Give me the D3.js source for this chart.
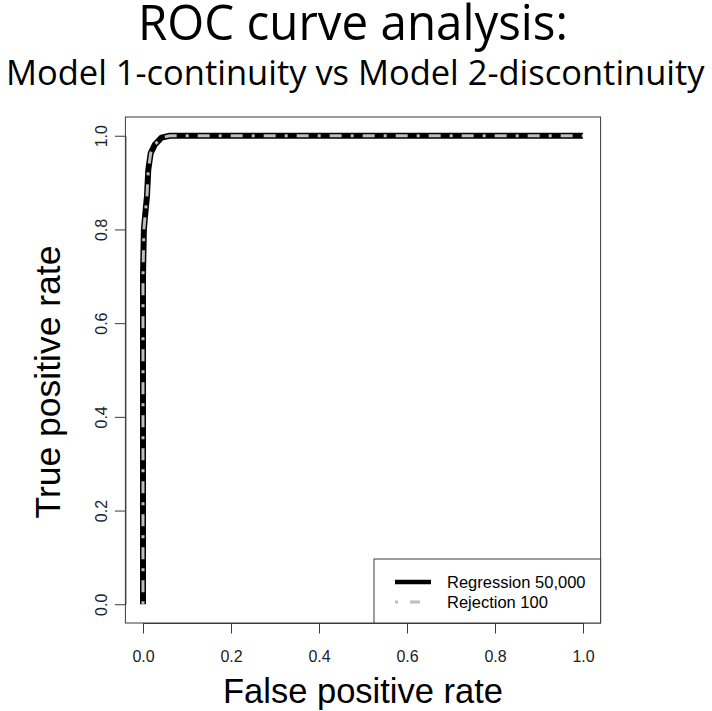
<!DOCTYPE html>
<html>
<head>
<meta charset="utf-8">
<script src="https://cdn.jsdelivr.net/npm/d3@7"></script>
<style>
  html, body { margin: 0; padding: 0; background: #fff; }
  svg { display: block; }
</style>
</head>
<body>
<svg id="chart" width="712" height="711"></svg>
<script>
// ---- data ----
const titleLines = ["ROC curve analysis:", "Model 1-continuity vs Model 2-discontinuity"];
const xLabel = "False positive rate";
const yLabel = "True positive rate";
const xTicks = [0, 0.2, 0.4, 0.6, 0.8, 1.0];
const yTicks = [0, 0.2, 0.4, 0.6, 0.8, 1.0];
const seriesNames = ["Regression 50,000", "Rejection 100"];

const regFpr = [0, 0, 0.002, 0.006, 0.009, 0.012, 0.0175, 0.027, 0.042, 0.061, 1.0];
const regTpr = [0, 0.70, 0.80, 0.842, 0.87, 0.927, 0.963, 0.981, 0.996, 1.0, 1.0];
const rejFpr = [0, 0, 0.002, 0.006, 0.009, 0.012, 0.0175, 0.027, 0.042, 0.061, 1.0];
const rejTpr = [0, 0.70, 0.80, 0.842, 0.87, 0.927, 0.963, 0.981, 0.996, 1.0, 1.0];

// ---- layout ----
const svg = d3.select("#chart");
const box = {left: 125.4, right: 600.6, top: 117, bottom: 623};
const padX = (box.right - box.left) * 0.04 / 1.08;
const padY = (box.bottom - box.top) * 0.04 / 1.08;

const x = d3.scaleLinear().domain([0, 1]).range([box.left + padX, box.right - padX]);
const y = d3.scaleLinear().domain([0, 1]).range([box.bottom - padY, box.top + padY]);

const rFont = "'Liberation Sans', Arial, sans-serif";
const axisColor = "#3a3a3a";

// ---- titles (horizontally scaled to fit the measured span) ----
function fittedTitle(txt, left, right, baseline, size) {
  const g = svg.append("g");
  const t = g.append("text")
    .attr("x", 0).attr("y", 0)
    .attr("font-family", "'Open Sans', sans-serif")
    .attr("font-size", size)
    .attr("fill", "#000")
    .text(txt);
  const w = t.node().getComputedTextLength();
  const sx = (right - left) / w;
  g.attr("transform", `translate(${left},${baseline}) scale(${sx},1)`);
}
fittedTitle(titleLines[0], 138, 568, 40, 49);
fittedTitle(titleLines[1], 6, 705, 85, 35);

// ---- axes ----
const xAxis = d3.axisBottom(x).tickValues(xTicks).tickFormat(d3.format(".1f"))
  .tickSize(10.5).tickSizeOuter(0);
const gx = svg.append("g").attr("transform", `translate(0,${box.bottom})`).call(xAxis);
gx.select(".domain").attr("stroke", axisColor);
gx.selectAll(".tick line").attr("stroke", axisColor);
gx.selectAll(".tick text")
  .attr("y", 39).attr("dy", 0)
  .attr("font-family", rFont).attr("font-size", 16).attr("fill", "#222");

const yAxis = d3.axisLeft(y).tickValues(yTicks).tickFormat(d3.format(".1f"))
  .tickSize(10.5).tickSizeOuter(0);
const gy = svg.append("g").attr("transform", `translate(${box.left},0)`).call(yAxis);
gy.select(".domain").attr("stroke", axisColor);
gy.selectAll(".tick line").attr("stroke", axisColor);
gy.selectAll(".tick text")
  .attr("x", 0).attr("dy", 0)
  .attr("transform", "translate(-18,0) rotate(-90)")
  .attr("text-anchor", "middle")
  .attr("font-family", rFont).attr("font-size", 16).attr("fill", "#222");

// plot box
svg.append("rect")
  .attr("x", box.left).attr("y", box.top)
  .attr("width", box.right - box.left).attr("height", box.bottom - box.top)
  .attr("fill", "none").attr("stroke", axisColor).attr("stroke-width", 1);

// axis titles
svg.append("text")
  .attr("x", (box.left + box.right) / 2).attr("y", 703)
  .attr("text-anchor", "middle")
  .attr("font-family", rFont).attr("font-size", 34.5).attr("fill", "#000")
  .text(xLabel);
svg.append("text")
  .attr("transform", `translate(59.5,382) rotate(-90)`)
  .attr("text-anchor", "middle")
  .attr("font-family", rFont).attr("font-size", 35.5).attr("fill", "#000")
  .text(yLabel);

// ---- curves ----
const line = d3.line().x(d => x(d[0])).y(d => y(d[1]));
const regData = regFpr.map((v, i) => [v, regTpr[i]]);
const rejData = rejFpr.map((v, i) => [v, rejTpr[i]]);

svg.append("path").datum(regData)
  .attr("d", line)
  .attr("fill", "none").attr("stroke", "#000")
  .attr("stroke-width", 6).attr("stroke-linejoin", "round").attr("stroke-linecap", "butt");

const greyDash = "3,9,12,9";
svg.append("path").datum(rejData)
  .attr("d", line)
  .attr("fill", "none").attr("stroke", "#bdbdbd")
  .attr("stroke-width", 3).attr("stroke-linejoin", "round")
  .attr("stroke-dasharray", greyDash);

// ---- legend ----
const leg = {x: 374, y: 559, w: box.right - 374, h: box.bottom - 559};
svg.append("rect")
  .attr("x", leg.x).attr("y", leg.y).attr("width", leg.w).attr("height", leg.h)
  .attr("fill", "#fff").attr("stroke", axisColor).attr("stroke-width", 1);

const rows = [
  {name: seriesNames[0], cy: 582, stroke: "#000", width: 4.5, dash: null},
  {name: seriesNames[1], cy: 602, stroke: "#bdbdbd", width: 3, dash: "3,12,10,12"}
];
rows.forEach(r => {
  svg.append("line")
    .attr("x1", 395).attr("x2", 431).attr("y1", r.cy).attr("y2", r.cy)
    .attr("stroke", r.stroke).attr("stroke-width", r.width)
    .attr("stroke-dasharray", r.dash);
  svg.append("text")
    .attr("x", 447).attr("y", r.cy + 5.5)
    .attr("font-family", rFont).attr("font-size", 16.5).attr("fill", "#000")
    .text(r.name);
});
</script>
</body>
</html>
